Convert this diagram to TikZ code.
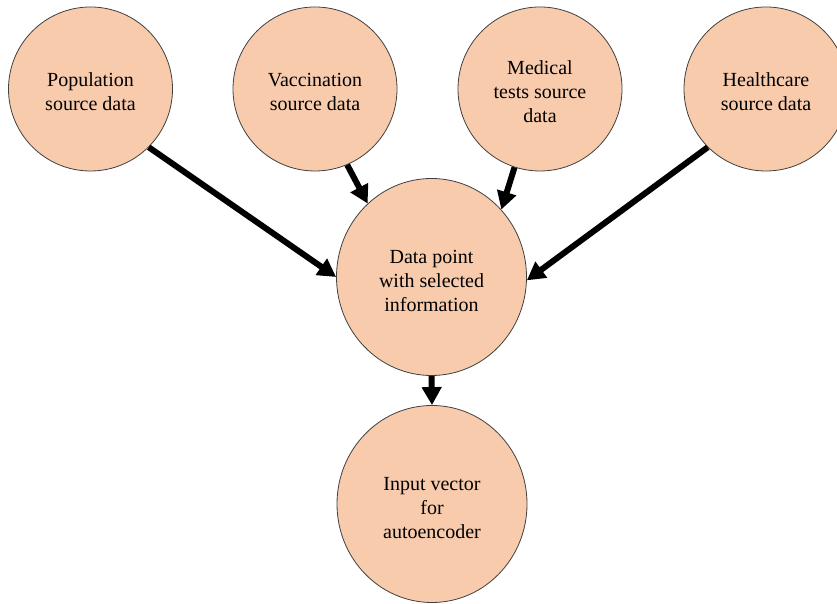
\documentclass[tikz,border=0pt]{standalone}
\usepackage{fontspec}
\setmainfont{Liberation Serif}
\usetikzlibrary{shapes.geometric,arrows.meta}
\definecolor{peach}{HTML}{F8CBAD}
\definecolor{rim}{HTML}{404040}
\tikzset{
  blob/.style={ellipse, draw=rim, line width=0.8pt, fill=peach, inner sep=0pt},
  small/.style={blob, minimum width=164pt, minimum height=164pt},
  big/.style={blob, minimum width=190pt, minimum height=197pt},
  words/.style={align=center, font=\fontsize{20}{24}\selectfont, inner sep=0pt},
  flow/.style={line width=6pt, draw=black, -{Triangle[length=18pt,width=19pt]}}
}
\begin{document}
\begin{tikzpicture}[x=1pt,y=1pt]
\useasboundingbox (0,0) rectangle (837,604);
\fill[white] (0,0) rectangle (837,604);
\node[small, label={[words,yshift=-2.5pt]center:Population\\source data}] (pop) at (90.5,515) {};
\node[small, label={[words,yshift=-2.5pt]center:Vaccination\\source data}] (vac) at (315,515) {};
\node[small, label={[words,yshift=-2.5pt]center:Medical\\tests source\\data}] (med) at (540,515) {};
\node[small, label={[words,yshift=-2.5pt]center:Healthcare\\source data}] (hc) at (766,515) {};
\node[big, label={[words,yshift=-3.5pt]center:Data point\\with selected\\information}] (dp) at (431.5,327) {};
\node[big, label={[words,yshift=-4.5pt]center:Input vector\\for\\autoencoder}] (iv) at (432,100) {};
\draw[flow] (pop.-45.7) -- (dp.180);
\draw[flow] (vac.-67.9) -- (dp.131.9);
\draw[flow] (med.-108.7) -- (dp.44.4);
\draw[flow] (hc.-135) -- (dp.-2);
\draw[flow] (dp.south) -- (iv.north);
\end{tikzpicture}
\end{document}
